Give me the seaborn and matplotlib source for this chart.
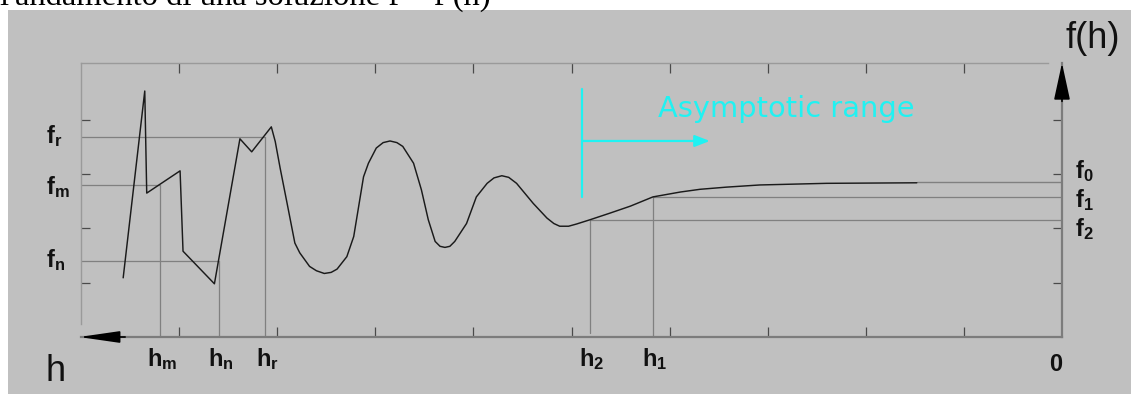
import matplotlib
matplotlib.use("Agg")
import matplotlib.pyplot as plt
from matplotlib.patches import Rectangle
import numpy as np
import pandas as pd
import seaborn as sns

# f(h) solution curve: h decreases to the right towards 0
h_curve = [9.57, 9.35, 9.33, 8.99, 8.96, 8.64, 8.38, 8.26, 8.06, 8.02, 7.97, 7.90,
           7.82, 7.77, 7.67, 7.60, 7.52, 7.45, 7.39, 7.29, 7.22, 7.17, 7.12, 7.07,
           6.99, 6.92, 6.85, 6.78, 6.72, 6.61, 6.53, 6.46, 6.39, 6.34, 6.29, 6.24,
           6.19, 6.07, 5.97, 5.86, 5.79, 5.71, 5.64, 5.56, 5.39, 5.25, 5.18, 5.12,
           5.03, 4.95, 4.81, 4.61, 4.40, 4.17, 3.89, 3.69, 3.42, 3.08, 2.40, 1.48]
f_curve = [1.09, 4.53, 2.65, 3.06, 1.58, 0.98, 3.65, 3.41, 3.87, 3.60, 3.11, 2.47,
           1.73, 1.55, 1.30, 1.22, 1.17, 1.19, 1.25, 1.48, 1.85, 2.40, 2.95, 3.20,
           3.48, 3.58, 3.61, 3.58, 3.51, 3.20, 2.71, 2.16, 1.76, 1.67, 1.65, 1.67,
           1.76, 2.09, 2.58, 2.83, 2.93, 2.97, 2.94, 2.83, 2.46, 2.19, 2.09, 2.04,
           2.04, 2.08, 2.16, 2.28, 2.41, 2.58, 2.67, 2.72, 2.76, 2.80, 2.83, 2.84]

# marked grid sizes and the corresponding solution values
h_names = ["m", "n", "r", "2", "1"]
h_marks = [9.19, 8.59, 8.12, 4.81, 4.17]
f_left_names = ["r", "m", "n"]
f_left = [3.68, 2.80, 1.40]
f_right_names = ["0", "1", "2"]
f_right = [2.86, 2.57, 2.15]

h_ticks = [1, 2, 3, 4, 5, 6, 7, 8, 9]
f_ticks = [1, 2, 3, 4]

# start of the asymptotic range and the end of its arrow
h_asym_start = 4.89
h_asym_arrow = 3.59
f_asym_bar = (2.58, 4.57)
f_asym_arrow = 3.61

H_MAX, F_MAX = 10.0, 5.046

sns.set_style("white")
plt.rcParams["font.family"] = ["Liberation Sans", "DejaVu Sans"]
plt.rcParams["mathtext.fontset"] = "custom"
plt.rcParams["mathtext.rm"] = "Liberation Sans"
plt.rcParams["mathtext.it"] = "Liberation Sans"
plt.rcParams["mathtext.bf"] = "Liberation Sans:bold"
plt.rcParams["mathtext.default"] = "regular"

W, H = 1131, 394
fig = plt.figure(figsize=(W / 100, H / 100), dpi=100, facecolor="white")
fig.patches.append(Rectangle((8 / W, 0), 1 - 8 / W, (H - 10) / H,
                             transform=fig.transFigure, facecolor="#c0c0c0",
                             edgecolor="none", zorder=-5))
fig.text(0.0, 1 - 5 / H, "l'andamento di una soluzione f = f (h)",
         family="Liberation Serif", fontsize=23.5, va="baseline", ha="left",
         color="black")

ax = fig.add_axes([81 / W, 57 / H, 981 / W, 274 / H])
ax.set_zorder(2)
ax.set_facecolor("none")
ax.patch.set_alpha(0)

AX_GREY = "#7c7c7c"
REF_GREY = "#808080"

# reference lines on the left (f_r, f_m, f_n)
left_h = [h_marks[2], h_marks[0], h_marks[1]]
for fv, hv in zip(f_left, left_h):
    ax.plot([H_MAX, hv], [fv, fv], color=REF_GREY, lw=0.9, zorder=2)
    ax.plot([hv, hv], [0, fv], color=REF_GREY, lw=0.9, zorder=2)

# reference lines on the right (h_2 -> f_2, h_1 -> f_1, tail -> f_0)
ax.plot([h_marks[3], h_marks[3]], [0.07, f_right[2]], color=REF_GREY, lw=0.9, zorder=2)
ax.plot([h_marks[3], 0], [f_right[2], f_right[2]], color=REF_GREY, lw=0.9, zorder=2)
ax.plot([h_marks[4], h_marks[4]], [0, f_right[1]], color=REF_GREY, lw=0.9, zorder=2)
ax.plot([h_marks[4], 0], [f_right[1], f_right[1]], color=REF_GREY, lw=0.9, zorder=2)
ax.plot([h_curve[-1], 0], [f_right[0], f_right[0]], color=REF_GREY, lw=1.0, zorder=2)

# the solution curve
df = pd.DataFrame({"h": h_curve, "f": f_curve})
sns.lineplot(data=df, x="h", y="f", sort=False, estimator=None, ax=ax,
             color="#1a1a1a", lw=1.05, zorder=3)

ax.set_xlim(H_MAX, 0)
ax.set_ylim(0, F_MAX)
ax.set_xlabel("")
ax.set_ylabel("")

# frame
for side in ["left", "top"]:
    ax.spines[side].set_visible(True)
    ax.spines[side].set_color("#9a9a9a")
    ax.spines[side].set_linewidth(1.0)
for side in ["bottom", "right"]:
    ax.spines[side].set_visible(True)
    ax.spines[side].set_color(AX_GREY)
    ax.spines[side].set_linewidth(1.6)
ax.spines["left"].set_bounds(0.24, F_MAX)
ax.spines["top"].set_bounds(0.14, H_MAX)

ax.set_xticks(h_ticks)
ax.set_yticks(f_ticks)
ax.tick_params(axis="x", direction="in", length=7.2, width=0.9, colors="#4a4a4a",
               top=True, bottom=True, labelbottom=False, labeltop=False)
ax.tick_params(axis="y", direction="in", length=6.5, width=0.9, colors="#4a4a4a",
               left=True, right=True, labelleft=False, labelright=False)

# axis arrowheads
ax.annotate("", xy=(-0.002, 0), xytext=(0.045, 0), xycoords="axes fraction",
            arrowprops=dict(arrowstyle="-|>,head_length=2.5,head_width=0.36",
                            mutation_scale=10, color="black", lw=1.2,
                            shrinkA=0, shrinkB=0), annotation_clip=False)
ax.annotate("", xy=(1.0, 1.0), xytext=(1.0, 0.86), xycoords="axes fraction",
            arrowprops=dict(arrowstyle="-|>,head_length=2.3,head_width=0.5",
                            mutation_scale=10, color="black", lw=1.2,
                            shrinkA=0, shrinkB=0), annotation_clip=False)

# asymptotic range marker
CYAN = "#20f2f2"
ax.plot([h_asym_start, h_asym_start], list(f_asym_bar), color=CYAN, lw=1.6, zorder=4)
ax.annotate("", xy=(h_asym_arrow, f_asym_arrow), xytext=(h_asym_start, f_asym_arrow),
            arrowprops=dict(arrowstyle="-|>,head_length=0.9,head_width=0.35",
                            mutation_scale=10, color=CYAN, lw=1.6,
                            shrinkA=0, shrinkB=0))
ax.text(4.12, 4.05, "Asymptotic range", family="DejaVu Sans", fontsize=20.8,
        color=CYAN, ha="left", va="baseline")

# labels
LBL = dict(fontsize=17, color="#111111", annotation_clip=False,
           textcoords="offset pixels")
for name, fv, dy in zip(f_left_names, f_left, [-6, -9, -6]):
    ax.annotate(rf"$\mathbf{{f_{name}}}$", xy=(H_MAX, fv), xytext=(-35, dy),
                ha="left", va="baseline", **LBL)
for name, fv, dy in zip(f_right_names, f_right, [4, -10, -16]):
    ax.annotate(rf"$\mathbf{{f_{name}}}$", xy=(0, fv), xytext=(13, dy),
                ha="left", va="baseline", **LBL)
for name, hv in zip(h_names, h_marks):
    ax.annotate(rf"$\mathbf{{h_{name}}}$", xy=(hv, 0), xytext=(2, -29),
                ha="center", va="baseline", **LBL)
ax.annotate("0", xy=(0, 0), xytext=(0, -34), ha="right", va="baseline",
            fontweight="bold", **LBL)
ax.annotate("h", xy=(H_MAX, 0), xytext=(-35, -44), ha="left", va="baseline",
            fontsize=26, color="#111111", annotation_clip=False,
            textcoords="offset pixels")
ax.annotate("f(h)", xy=(0, F_MAX), xytext=(4, 15), ha="left", va="baseline",
            fontsize=26, color="#111111", annotation_clip=False,
            textcoords="offset pixels")

fig.savefig("out.png", dpi=100, facecolor="white")
